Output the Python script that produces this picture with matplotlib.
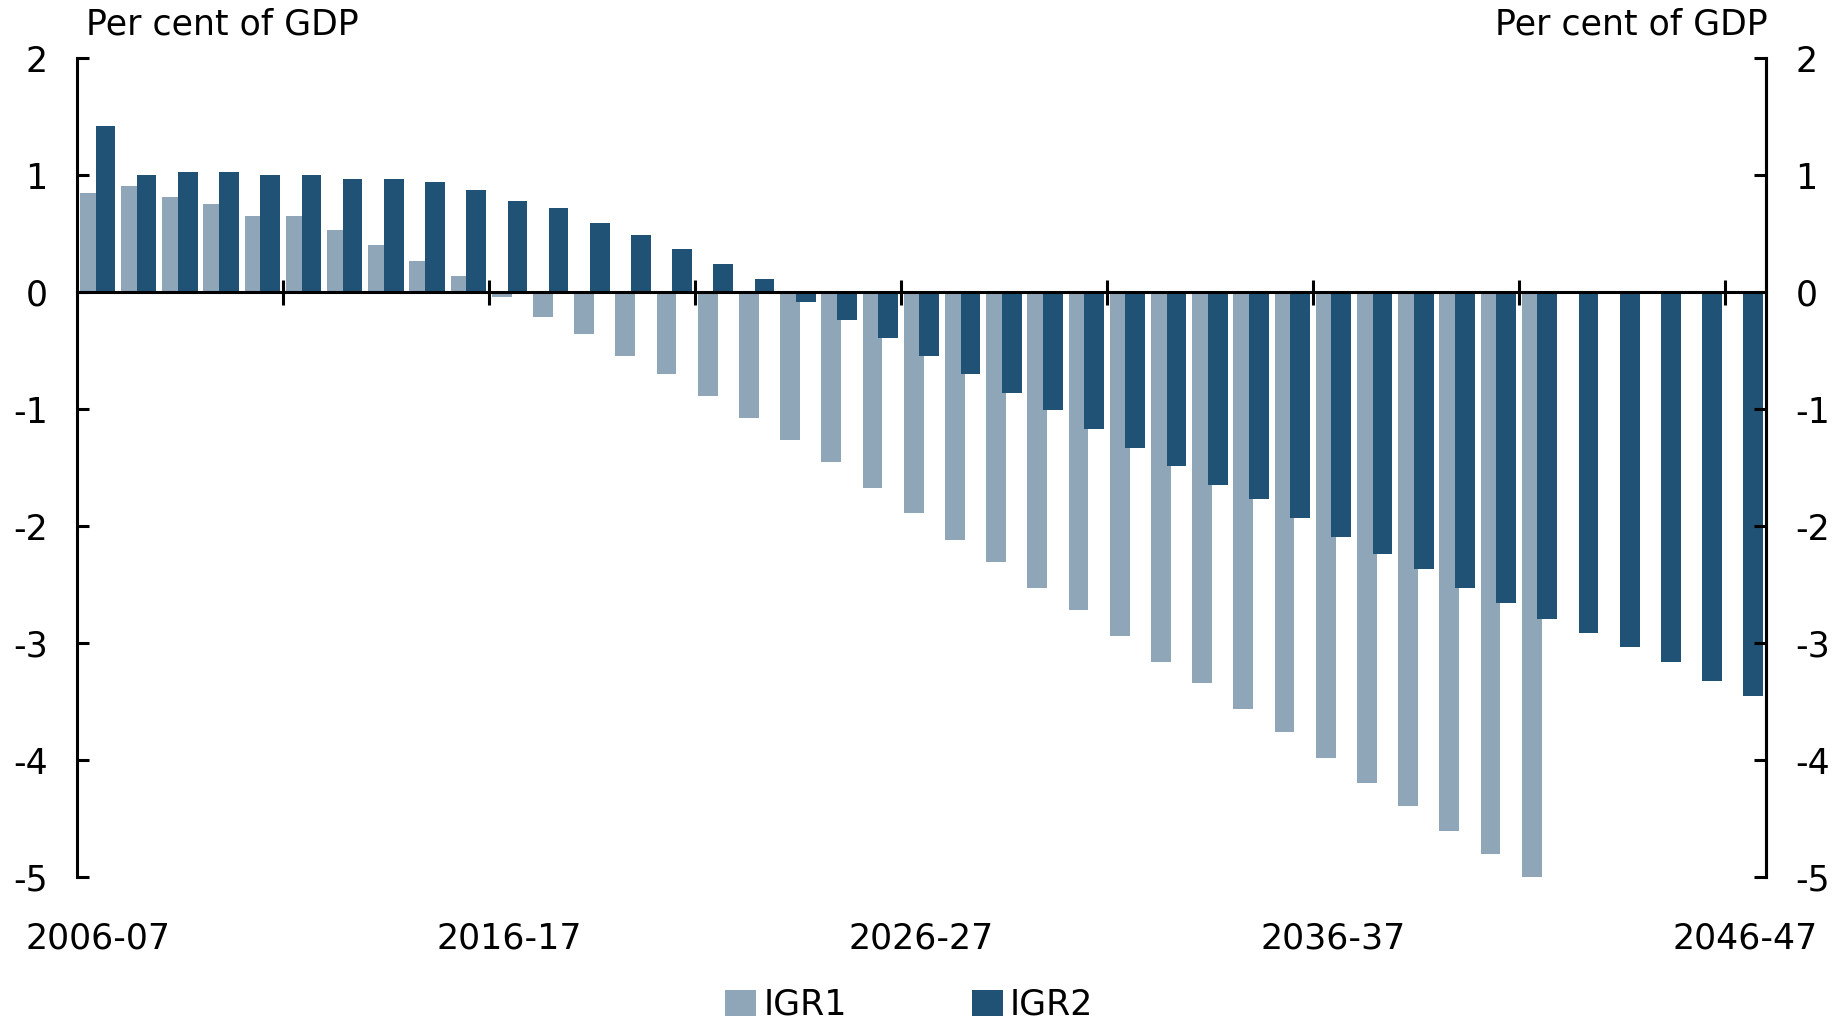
import numpy as np
import matplotlib
matplotlib.use('Agg')
import matplotlib.pyplot as plt
from matplotlib import transforms

years = list(range(2006, 2047))
labels = [f"{y}-{str(y + 1)[-2:]}" for y in years]
shown_labels = ['2006-07', '2016-17', '2026-27', '2036-37', '2046-47']

igr1 = [0.85, 0.91, 0.81, 0.75, 0.65, 0.65, 0.53, 0.40, 0.27, 0.14,
        -0.04, -0.21, -0.36, -0.55, -0.70, -0.89, -1.08, -1.26, -1.45, -1.67,
        -1.89, -2.12, -2.31, -2.53, -2.72, -2.94, -3.16, -3.34, -3.56, -3.76,
        -3.98, -4.20, -4.39, -4.61, -4.80, -5.02]
igr2 = [1.42, 1.00, 1.03, 1.03, 1.00, 1.00, 0.97, 0.97, 0.94, 0.87,
        0.78, 0.72, 0.59, 0.49, 0.37, 0.24, 0.11, -0.08, -0.24, -0.39,
        -0.55, -0.70, -0.86, -1.01, -1.17, -1.33, -1.49, -1.65, -1.77, -1.93,
        -2.09, -2.24, -2.37, -2.53, -2.66, -2.79, -2.91, -3.03, -3.16, -3.32,
        -3.45]
yticks = [-5, -4, -3, -2, -1, 0, 1, 2]

light = '#8FA6B9'
dark = '#1F5275'

plt.rcParams['font.family'] = ['DejaVu Sans']
plt.rcParams['font.size'] = 25
plt.rcParams['axes.unicode_minus'] = False

fig = plt.figure(figsize=(18.33, 10.21), dpi=100)
ax = fig.add_axes([0.042, 0.141, 0.9215, 0.802])

x = np.arange(len(years))
w = 0.48
b1 = ax.bar(x[:len(igr1)] - 0.19, igr1, width=w, color=light, label='IGR1', zorder=1)
b2 = ax.bar(x + 0.19, igr2, width=w, color=dark, label='IGR2', zorder=1.1)

ax.set_xlim(-0.5, len(years) - 0.5)
ax.set_ylim(-5, 2)
ax.set_yticks(yticks)
ax.set_yticklabels([str(v) for v in yticks])

lw = 2.2
ax.spines['top'].set_visible(False)
ax.spines['bottom'].set_position(('data', 0))
for s in ['left', 'right', 'bottom']:
    ax.spines[s].set_linewidth(lw)

ax.set_xticks(np.arange(4.5, len(years) - 1, 5))
ax.tick_params(axis='x', direction='inout', length=18, width=lw, labelbottom=False)
ax.tick_params(axis='y', direction='in', length=8.5, width=lw, pad=21)

ax2 = ax.twinx()
ax2.set_ylim(ax.get_ylim())
ax2.set_yticks(yticks)
ax2.set_yticklabels([str(v) for v in yticks])
for s in ['top', 'bottom', 'left']:
    ax2.spines[s].set_visible(False)
ax2.spines['right'].set_linewidth(lw)
ax2.tick_params(axis='y', direction='in', length=8.5, width=lw, pad=21)

# category labels below the plot
trans = transforms.blended_transform_factory(ax.transData, ax.transAxes)
for lab in shown_labels:
    ax.text(labels.index(lab), -0.0745, lab, transform=trans,
            ha='center', va='center')

ax.text(0.0053, 1.0415, 'Per cent of GDP', transform=ax.transAxes,
        ha='left', va='center')
ax.text(1.0012, 1.0415, 'Per cent of GDP', transform=ax.transAxes,
        ha='right', va='center')

fig.legend(handles=[b1, b2], loc='center', bbox_to_anchor=(0.496, 0.0157),
           ncol=2, frameon=False, handlelength=0.9, handleheight=0.75,
           handletextpad=0.2, columnspacing=3.6, borderpad=0, borderaxespad=0)

fig.savefig('out.png', dpi=100)
